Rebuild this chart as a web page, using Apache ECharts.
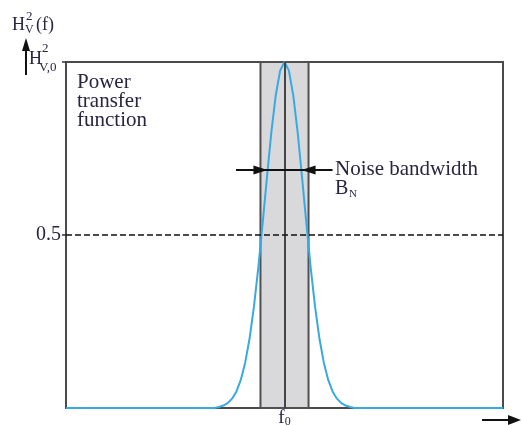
<!DOCTYPE html>
<html><head><meta charset="utf-8">
<script src="https://cdn.jsdelivr.net/npm/echarts@6/dist/echarts.min.js"></script>
<style>html,body{margin:0;padding:0;background:#fff}#c{width:522px;height:426px}</style>
</head><body><div id="c"></div>
<script>
// frequency axis (arbitrary units, f0 at 50)
const freq = [0, 34, 35, 36, 37, 38, 39, 40, 41, 42, 43, 44, 45, 46, 47, 48, 49, 50,
              51, 52, 53, 54, 55, 56, 57, 58, 59, 60, 61, 62, 63, 64, 65, 66, 100];
// power transfer function (normalised to H^2_V,0 = 1)
const power = [0, 0, 0.003, 0.007, 0.014, 0.027, 0.048, 0.081, 0.131, 0.2, 0.292, 0.405, 0.534, 0.669, 0.798, 0.904, 0.975, 1,
               0.975, 0.904, 0.798, 0.669, 0.534, 0.405, 0.292, 0.2, 0.131, 0.081, 0.048, 0.027, 0.014, 0.007, 0.003, 0, 0];
const noiseBand = [44.5, 55.5];
const centerFreq = 50;
const halfLevel = 0.5;
const arrowLevel = 0.688;
const arrowOuter = [38.9, 61];
const yTickValues = [0.5, 1];
const yLabelValues = [0.5];

const SERIF = "'Liberation Serif','Times New Roman',serif";
const TXT = '#2a2440';
const chart = echarts.init(document.getElementById('c'), null, {renderer: 'canvas'});

const curveData = freq.map((f, i) => [f, power[i]]);

const option = {
  animation: false,
  grid: {left: 66, right: 19, top: 62, bottom: 18, outerBoundsMode: 'none', containLabel: false,
         show: true, borderColor: '#4a4a4a', borderWidth: 2, backgroundColor: 'transparent'},
  xAxis: {
    type: 'value', min: 0, max: 100, interval: 50,
    axisLine: {show: false}, axisTick: {show: false}, splitLine: {show: false},
    axisLabel: {
      margin: 2,
      formatter: v => v === centerFreq ? '{f|f}{s|0}' : '',
      rich: {
        f: {fontFamily: SERIF, fontSize: 19, color: TXT, lineHeight: 18, verticalAlign: 'bottom'},
        s: {fontFamily: SERIF, fontSize: 12, color: TXT, lineHeight: 18, verticalAlign: 'bottom', padding: [4, 0, 0, 0]}
      }
    }
  },
  yAxis: {
    type: 'value', min: 0, max: 1, interval: 0.5,
    axisLine: {show: false}, splitLine: {show: false},
    axisTick: {show: true, length: 4, customValues: yTickValues, lineStyle: {color: '#333', width: 1.5}},
    axisLabel: {
      margin: 5, customValues: yLabelValues,
      formatter: v => yLabelValues.indexOf(v) >= 0 ? String(v) : '',
      fontFamily: SERIF, fontSize: 20, color: TXT
    }
  },
  series: [
    {
      name: 'band', type: 'line', data: [], z: 1,
      markArea: {
        silent: true,
        itemStyle: {color: '#d9d9dc', borderColor: '#505050', borderWidth: 2},
        data: [[{xAxis: noiseBand[0], yAxis: 0}, {xAxis: noiseBand[1], yAxis: 1}]]
      },
      markLine: {
        silent: true, symbol: 'none', label: {show: false},
        lineStyle: {color: '#444', width: 2, type: 'solid'},
        data: [[{coord: [centerFreq, 0]}, {coord: [centerFreq, 1]}]]
      }
    },
    {
      name: 'Power transfer function', type: 'line', data: curveData, z: 4,
      showSymbol: false, symbol: 'none', smooth: false,
      lineStyle: {color: '#39a9e1', width: 2}
    },
    {
      name: 'annot', type: 'line', data: [], z: 5,
      markLine: {
        silent: true, label: {show: false}, symbol: 'none',
        lineStyle: {color: '#111', width: 1.5},
        data: [
          [{coord: [0, halfLevel], lineStyle: {type: [6, 3], width: 1.5, color: '#111'}}, {coord: [100, halfLevel]}],
          [{coord: [arrowOuter[0], arrowLevel], lineStyle: {type: 'solid', width: 2, color: '#111'}}, {coord: [arrowOuter[1], arrowLevel]}],
          [{coord: [arrowOuter[0] + 2, arrowLevel], symbol: 'none', lineStyle: {type: 'solid', width: 2, color: '#111'}}, {coord: [noiseBand[0], arrowLevel], symbol: 'triangle', symbolSize: [9, 14], symbolRotate: -90}],
          [{coord: [arrowOuter[1] - 2, arrowLevel], symbol: 'none', lineStyle: {type: 'solid', width: 2, color: '#111'}}, {coord: [noiseBand[1], arrowLevel], symbol: 'triangle', symbolSize: [9, 14], symbolRotate: 90}]
        ]
      }
    }
  ],
  graphic: [
    // y axis title H^2_V (f)
    {type: 'text', x: 12, y: 16, style: {text: 'H', font: '18px ' + SERIF, fill: TXT}},
    {type: 'text', x: 26, y: 10, style: {text: '2', font: '13px ' + SERIF, fill: TXT}},
    {type: 'text', x: 25, y: 24, style: {text: 'V', font: '12px ' + SERIF, fill: TXT}},
    {type: 'text', x: 36, y: 16, style: {text: '(f)', font: '18px ' + SERIF, fill: TXT}},
    // vertical arrow
    {type: 'line', shape: {x1: 26, y1: 75, x2: 26, y2: 48}, style: {stroke: '#111', lineWidth: 2}},
    {type: 'polygon', shape: {points: [[26, 38], [22, 51], [30, 51]]}, style: {fill: '#111'}},
    // top tick label H^2_V,0
    {type: 'text', x: 29, y: 50, style: {text: 'H', font: '18px ' + SERIF, fill: TXT}},
    {type: 'text', x: 42, y: 42, style: {text: '2', font: '13px ' + SERIF, fill: TXT}},
    {type: 'text', x: 39, y: 61, style: {text: 'V,0', font: '13px ' + SERIF, fill: TXT}},
    // horizontal arrow
    {type: 'line', shape: {x1: 482, y1: 420, x2: 510, y2: 420}, style: {stroke: '#111', lineWidth: 2}},
    {type: 'polygon', shape: {points: [[521, 420], [508, 415], [508, 425]]}, style: {fill: '#111'}},
    // annotations
    {type: 'text', x: 77, y: 73, style: {text: 'Power\ntransfer\nfunction', font: '21px ' + SERIF, lineHeight: 19, fill: TXT}},
    {type: 'text', x: 335, y: 159, style: {text: 'Noise bandwidth', font: '21px ' + SERIF, fill: TXT}},
    {type: 'text', x: 335, y: 179, style: {text: 'B', font: '20px ' + SERIF, fill: TXT}},
    {type: 'text', x: 349, y: 189, style: {text: 'N', font: '11px ' + SERIF, fill: TXT}}
  ]
};
chart.setOption(option);
</script>
</body></html>
